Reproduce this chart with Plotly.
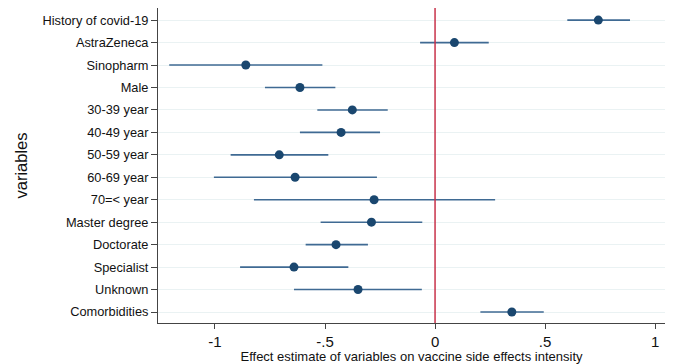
import plotly.graph_objects as go

variables = ["History of covid-19", "AstraZeneca", "Sinopharm", "Male", "30-39 year",
             "40-49 year", "50-59 year", "60-69 year", "70=< year", "Master degree",
             "Doctorate", "Specialist", "Unknown", "Comorbidities"]
estimate = [0.742, 0.088, -0.860, -0.614, -0.376, -0.427, -0.708, -0.636, -0.277,
            -0.289, -0.450, -0.641, -0.350, 0.349]
ci_low = [0.601, -0.068, -1.208, -0.773, -0.535, -0.614, -0.929, -1.005, -0.823,
          -0.520, -0.588, -0.886, -0.641, 0.206]
ci_high = [0.886, 0.244, -0.512, -0.453, -0.215, -0.250, -0.485, -0.264, 0.273,
           -0.058, -0.305, -0.394, -0.060, 0.494]
x_ticks = [-1, -0.5, 0, 0.5, 1]
x_tick_labels = ["-1", "-.5", "0", ".5", "1"]

err_plus = [h - e for h, e in zip(ci_high, estimate)]
err_minus = [e - l for e, l in zip(estimate, ci_low)]

fig = go.Figure()
fig.add_trace(go.Scatter(
    x=estimate, y=variables, mode="markers",
    marker=dict(color="#1a476f", size=9),
    error_x=dict(type="data", symmetric=False, array=err_plus, arrayminus=err_minus,
                 color="#3f6a93", thickness=1.6, width=0),
    showlegend=False,
))
fig.add_shape(type="line", x0=0, x1=0, y0=0, y1=1, xref="x", yref="paper",
              line=dict(color="#c8324a", width=1.5))

fig.update_layout(
    width=665, height=356,
    margin=dict(l=150, r=8, t=0, b=41, autoexpand=False),
    plot_bgcolor="white", paper_bgcolor="white",
    font=dict(family="Liberation Sans, Arial, sans-serif", color="#111"),
    xaxis=dict(range=[-1.259, 1.045], tickvals=x_ticks, ticktext=x_tick_labels,
               showgrid=False, zeroline=False, showline=True, linecolor="#444", linewidth=1,
               ticks="outside", ticklen=5, tickcolor="#444", tickfont=dict(size=15),
               title=dict(text="Effect estimate of variables on vaccine side effects intensity",
                          font=dict(size=13), standoff=0)),
    yaxis=dict(categoryorder="array", categoryarray=variables, range=[13.49, -0.54],
               showgrid=True, gridcolor="#eaf2f3", gridwidth=1.2, zeroline=False,
               showline=True, linecolor="#444", linewidth=1,
               ticks="outside", ticklen=6, tickcolor="#444", tickfont=dict(size=12.8),
               title=dict(text="variables", font=dict(size=16.5), standoff=10)),
)
fig.write_html("out.html")
